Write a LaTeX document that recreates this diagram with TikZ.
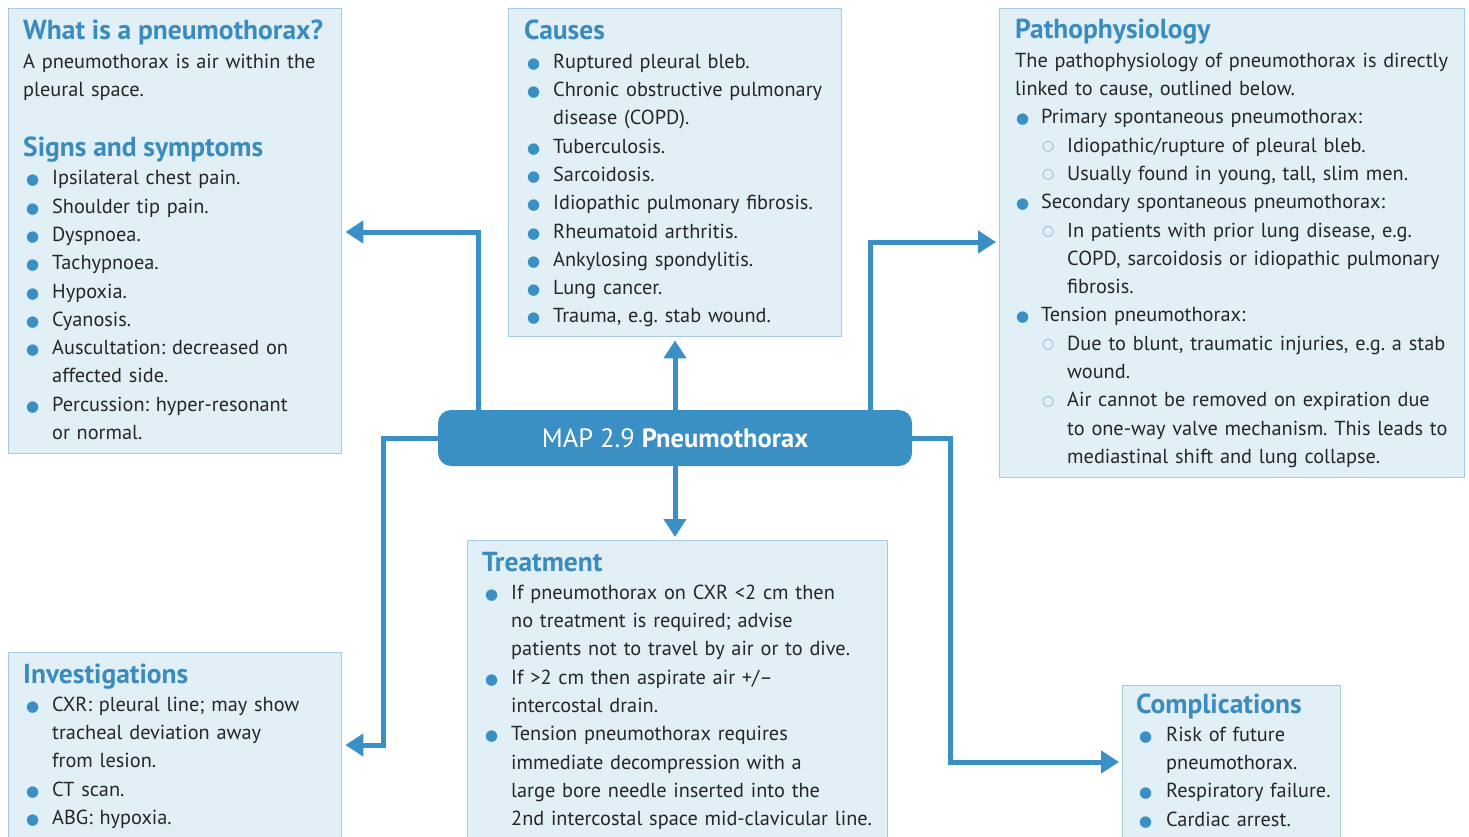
\documentclass[tikz,border=0pt]{standalone}
\usepackage{fontspec}
\setmainfont{PT Sans}
\newfontfamily\symfont{DejaVu Sans}
\usetikzlibrary{arrows.meta}

\definecolor{mapblue}{HTML}{3A8FC4}
\definecolor{boxfill}{HTML}{E1EFF7}
\definecolor{boxline}{HTML}{A6CBE0}
\definecolor{headblue}{HTML}{3B8BBF}
\definecolor{bodytext}{HTML}{262626}
\definecolor{subbul}{HTML}{8DB3CB}

% list indents (set per box)
\newlength{\itemind}
\newlength{\subind}
\newlength{\bulshift}
\setlength{\itemind}{29pt}
\setlength{\subind}{26pt}
\setlength{\bulshift}{3pt}

% heading line of a box
\newcommand{\hd}[1]{{\fontsize{27.5}{28.3}\selectfont\bfseries\color{headblue}#1\par}}
% first-level bullet item
\newcommand{\bi}{\par\leftskip=\itemind\noindent\llap{\makebox[\itemind][l]{\hspace{\bulshift}\textcolor{mapblue}{\symfont\fontsize{15}{15}\selectfont ●}}}}
% second-level (open circle) item
\newcommand{\si}{\par\leftskip=\dimexpr\itemind+\subind\relax\noindent\llap{\makebox[\subind][l]{\hspace{\bulshift}\raisebox{1.5pt}{\textcolor{subbul}{\symfont\fontsize{14}{14}\selectfont ○}}}}}
% plain paragraph without indent
\newcommand{\pl}{\par\leftskip=0pt\noindent}

\tikzset{
  infobox/.style={draw=boxline, line width=1.4pt, fill=boxfill, inner sep=0pt, anchor=north west},
  boxtext/.style={anchor=base west, inner sep=0pt, text width=460pt, align=left, text=bodytext,
    font=\fontsize{20.3}{28.3}\selectfont},
  hub/.style={fill=mapblue, rounded corners=13pt, minimum width=474pt, minimum height=56pt,
    inner sep=0pt, text=white, font=\fontsize{26.5}{28}\selectfont},
  conn/.style={draw=mapblue, line width=5pt, -{Triangle[length=18pt,width=22pt]}, shorten >=3pt}
}

\begin{document}
\frenchspacing
\begin{tikzpicture}[x=1pt,y=-1pt]
\useasboundingbox (0,0) rectangle (1469,837);
\clip (0,0) rectangle (1469,837);

% boxes
\node[infobox, minimum width=333pt, minimum height=445pt] (what) at (8,8) {};
\node[infobox, minimum width=333pt, minimum height=328pt] (causes) at (508,8) {};
\node[infobox, minimum width=465pt, minimum height=469pt] (patho) at (999,8) {};
\node[infobox, minimum width=420pt, minimum height=320pt] (treat) at (467,540) {};
\node[infobox, minimum width=333pt, minimum height=200pt] (inv) at (8,652) {};
\node[infobox, minimum width=218pt, minimum height=170pt] (comp) at (1122,685) {};

% central topic
\node[hub] (hub) at (675,438) {MAP 2.9 \textbf{Pneumothorax}};

% bend points of the connectors
\coordinate (bendsym) at (478,232);
\coordinate (bendpat) at (870,242);
\coordinate (bendinv) at (383,745);
\coordinate (bendcom) at (950,762);

\draw[conn] (hub.north -| bendsym) |- (what.east |- bendsym);
\draw[conn] (hub.north) -- (causes.south -| hub.north);
\draw[conn] (hub.north -| bendpat) |- (patho.west |- bendpat);
\draw[conn] (hub.south) -- (treat.north -| hub.south);
\draw[conn] (hub.west) -| (bendinv) -- (inv.east |- bendinv);
\draw[conn] (hub.east) -| (bendcom) -- (comp.west |- bendcom);

% box contents
\node[boxtext] (whatT) at (23,40) {\parskip=0pt
\hd{What is a pneumothorax?}%
\pl A pneumothorax is air within the\\ pleural space.\par
\vspace{31.7pt}%
\hd{Signs and symptoms}%
\bi Ipsilateral chest pain.
\bi Shoulder tip pain.
\bi Dyspnoea.
\bi Tachypnoea.
\bi Hypoxia.
\bi Cyanosis.
\bi Auscultation: decreased on\\ affected side.
\bi Percussion: hyper-resonant\\ or normal.\par};

\node[boxtext] (causesT) at (524,40) {\parskip=0pt
\hd{Causes}%
\bi Ruptured pleural bleb.
\bi Chronic obstructive pulmonary\\ disease (COPD).
\bi Tuberculosis.
\bi Sarcoidosis.
\bi Idiopathic pulmonary fibrosis.
\bi Rheumatoid arthritis.
\bi Ankylosing spondylitis.
\bi Lung cancer.
\bi Trauma, e.g. stab wound.\par};

\node[boxtext] (pathoT) at (1015,39) {\parskip=0pt\setlength{\itemind}{26pt}\setlength{\bulshift}{1pt}%
\hd{Pathophysiology}%
\pl The pathophysiology of pneumothorax is directly\\ linked to cause, outlined below.
\bi Primary spontaneous pneumothorax:
\si Idiopathic/rupture of pleural bleb.
\si Usually found in young, tall, slim men.
\bi Secondary spontaneous pneumothorax:
\si In patients with prior lung disease, e.g.\\ COPD, sarcoidosis or idiopathic pulmonary\\ fibrosis.
\bi Tension pneumothorax:
\si Due to blunt, traumatic injuries, e.g. a stab\\ wound.
\si Air cannot be removed on expiration due\\ to one-way valve mechanism. This leads to\\ mediastinal shift and lung collapse.\par};

\node[boxtext] (treatT) at (482,571) {\parskip=0pt
\hd{Treatment}%
\bi If pneumothorax on CXR <2 cm then\\ no treatment is required; advise\\ patients not to travel by air or to dive.
\bi If >2 cm then aspirate air +/\textendash\\ intercostal drain.
\bi Tension pneumothorax requires\\ immediate decompression with a\\ large bore needle inserted into the\\ 2nd intercostal space mid-clavicular line.\par};

\node[boxtext] (invT) at (23,683) {\parskip=0pt
\hd{Investigations}%
\bi CXR: pleural line; may show\\ tracheal deviation away\\ from lesion.
\bi CT scan.
\bi ABG: hypoxia.\par};

\node[boxtext] (compT) at (1136,713) {\parskip=0pt\setlength{\itemind}{30pt}%
\hd{Complications}%
\bi Risk of future\\ pneumothorax.
\bi Respiratory failure.
\bi Cardiac arrest.\par};
\end{tikzpicture}
\end{document}
